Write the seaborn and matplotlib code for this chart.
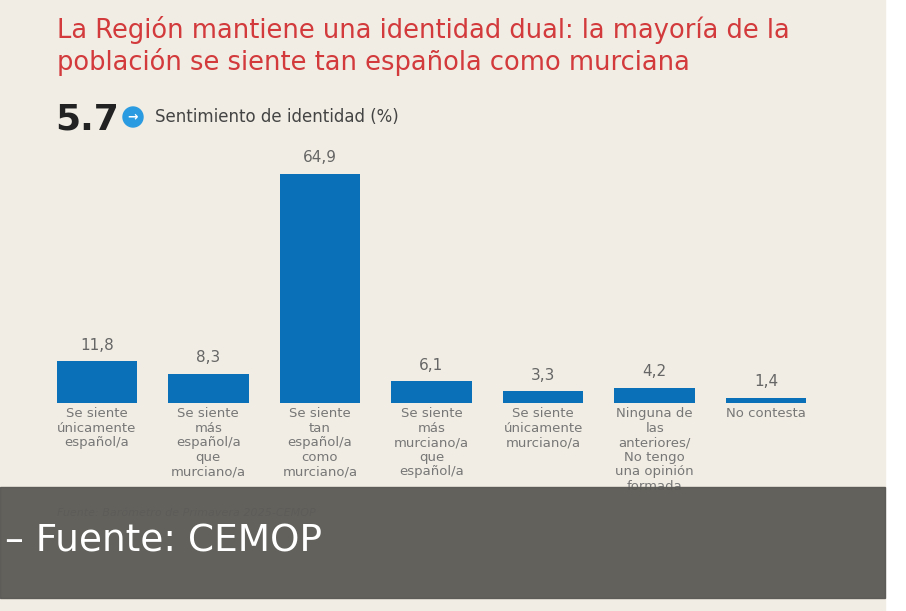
import matplotlib
matplotlib.use("Agg")
import matplotlib.pyplot as plt
from matplotlib.patches import Rectangle, Ellipse
import seaborn as sns
import pandas as pd

categorias = [
    "Se siente\núnicamente\nespañol/a",
    "Se siente\nmás\nespañol/a\nque\nmurciano/a",
    "Se siente\ntan\nespañol/a\ncomo\nmurciano/a",
    "Se siente\nmás\nmurciano/a\nque\nespañol/a",
    "Se siente\núnicamente\nmurciano/a",
    "Ninguna de\nlas\nanteriores/\nNo tengo\nuna opinión\nformada",
    "No contesta",
]
valores = [11.8, 8.3, 64.9, 6.1, 3.3, 4.2, 1.4]
etiquetas = ["11,8", "8,3", "64,9", "6,1", "3,3", "4,2", "1,4"]

df = pd.DataFrame({"cat": categorias, "val": valores})

bg = "#f1ede4"
azul = "#0a70b8"
fig = plt.figure(figsize=(9.06, 6.11), dpi=100, facecolor="white")
fig.patches.append(Rectangle((0, 0), 885 / 906, 1, transform=fig.transFigure, color=bg, zorder=-10))

ax = fig.add_axes([41 / 906, 208 / 611, 781 / 906, 247 / 611])
ax.set_facecolor("none")
sns.barplot(data=df, x="cat", y="val", color=azul, width=0.72, saturation=1, ax=ax)
ax.set_xlim(-0.5, 6.5)
ax.set_ylim(0, 70)
for i, (v, t) in enumerate(zip(valores, etiquetas)):
    ax.text(i, v + 2.5, t, ha="center", va="bottom", fontsize=11, color="#666666")
for s in ax.spines.values():
    s.set_visible(False)
ax.set_yticks([])
ax.set_xlabel("")
ax.set_ylabel("")
ax.tick_params(axis="x", length=0, pad=3)
ax.set_xticks(range(len(categorias)))
ax.set_xticklabels(categorias, fontsize=9.5, color="#777777", linespacing=1.15, va="top")

fig.text(57 / 906, 1 - 30 / 611, "La Región mantiene una identidad dual: la mayoría de la",
         color="#d23a3c", fontsize=18.5, va="center")
fig.text(57 / 906, 1 - 62 / 611, "población se siente tan española como murciana",
         color="#d23a3c", fontsize=18.5, va="center")
fig.text(55 / 906, 1 - 120 / 611, "5.7", color="#222222", fontsize=26, fontweight="bold",
         va="center")
fig.patches.append(Ellipse((133 / 906, 1 - 117 / 611), 20 / 906, 20 / 611, transform=fig.transFigure,
                           color="#2a9be0", zorder=3))
fig.text(133 / 906, 1 - 117 / 611, "→", color="white", fontsize=9, fontweight="bold",
         ha="center", va="center", zorder=4)
fig.text(155 / 906, 1 - 117 / 611, "Sentimiento de identidad (%)", color="#444444",
         fontsize=12, va="center")
fig.text(57 / 906, 1 - 513 / 611, "Fuente: Barómetro de Primavera 2025-CEMOP", color="#999999",
         fontsize=8, style="italic", va="center")

fig.patches.append(Rectangle((0, 1 - 598 / 611), 885 / 906, 111 / 611, transform=fig.transFigure,
                             color="#595854", alpha=0.94, zorder=10))
fig.text(5 / 906, 1 - 541 / 611, "– Fuente: CEMOP", color="white", fontsize=27,
         va="center", zorder=11)

fig.savefig("out.png", dpi=100, facecolor="white")
